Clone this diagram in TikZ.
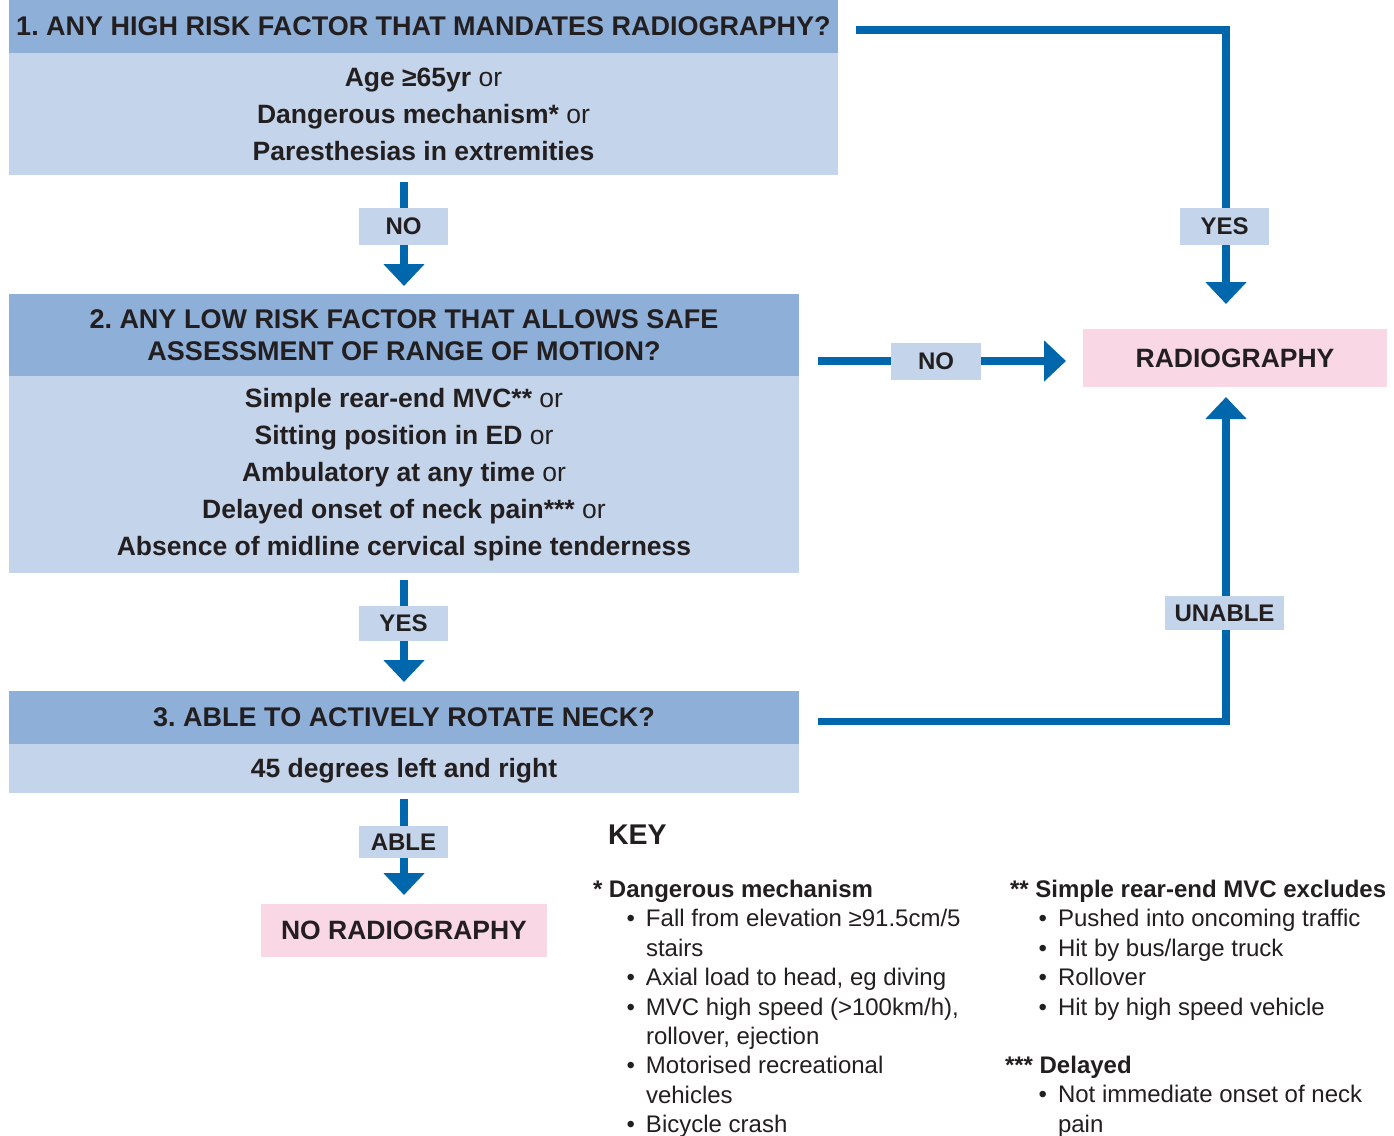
\documentclass[tikz,border=0pt]{standalone}
\usepackage{fontspec}
\setmainfont{Liberation Sans}
\usetikzlibrary{arrows.meta,calc}
\definecolor{hdrblue}{RGB}{141,175,216}
\definecolor{ltblue}{RGB}{196,212,234}
\definecolor{pinkbox}{RGB}{249,215,228}
\definecolor{arrblue}{RGB}{0,103,172}
\definecolor{txtc}{RGB}{35,31,32}
\frenchspacing
\begin{document}
\begin{tikzpicture}[x=1pt,y=-1pt,
  every node/.style={text=txtc, inner sep=0pt, outer sep=0pt},
  hdrbox/.style={fill=hdrblue, anchor=north west, align=center, font=\fontsize{27}{32}\selectfont\bfseries},
  bodybox/.style={fill=ltblue, anchor=north west, align=center, font=\fontsize{26.5}{37}\selectfont},
  endbox/.style={fill=pinkbox, anchor=north west, font=\fontsize{26.5}{32}\selectfont\bfseries},
  lbl/.style={fill=ltblue, font=\fontsize{24}{28}\selectfont\bfseries},
  conn/.style={draw=arrblue, line width=7.5pt, -{Triangle[width=40pt,length=22pt]}},
  keytxt/.style={anchor=north west, align=left, font=\fontsize{24}{29.4}\selectfont}
]
\useasboundingbox[fill=white] (0,0) rectangle (1394,1135);

% Box 1
\node[hdrbox, minimum width=829pt, minimum height=53pt] (h1) at (9,0) {1. ANY HIGH RISK FACTOR THAT MANDATES RADIOGRAPHY?};
\node[bodybox, minimum width=829pt, minimum height=122pt] (b1) at (9,53) {\textbf{Age ≥65yr} or\\ \textbf{Dangerous mechanism*} or\\ \textbf{Paresthesias in extremities}};

% Box 2
\node[hdrbox, minimum width=790pt, minimum height=82pt] (h2) at (9,294) {2. ANY LOW RISK FACTOR THAT ALLOWS SAFE\\ ASSESSMENT OF RANGE OF MOTION?};
\node[bodybox, minimum width=790pt, minimum height=197pt] (b2) at (9,376) {\textbf{Simple rear-end MVC**} or\\ \textbf{Sitting position in ED} or\\ \textbf{Ambulatory at any time} or\\ \textbf{Delayed onset of neck pain***} or\\ \textbf{Absence of midline cervical spine tenderness}};

% Box 3
\node[hdrbox, minimum width=790pt, minimum height=53pt] (h3) at (9,691) {3. ABLE TO ACTIVELY ROTATE NECK?};
\node[bodybox, minimum width=790pt, minimum height=49pt, text depth=0pt, text height=0pt] (b3) at (9,744) {};
\node[font=\fontsize{26.5}{32}\selectfont\bfseries] (b3t) at ([yshift=-2.5pt]b3.center) {45 degrees left and right};

% End boxes
\node[endbox, minimum width=304pt, minimum height=58pt] (rad) at (1083,329) {RADIOGRAPHY};
\node[endbox, minimum width=286pt, minimum height=53pt] (norad) at (261,904) {NO RADIOGRAPHY};

% Connectors
\draw[conn, shorten <=7pt, shorten >=8pt] (b1.south -| h2.north) -- (h2.north);
\draw[conn, shorten <=7pt, shorten >=9pt] (b2.south) -- (h3.north);
\draw[conn, shorten <=6pt, shorten >=9pt] (b3.south) -- (norad.north);
\draw[conn, shorten <=19pt, shorten >=17pt] ([yshift=-3pt]rad.west -| h2.east) -- ([yshift=-3pt]rad.west);
\draw[conn, shorten <=18pt, shorten >=25pt] ([yshift=-3.5pt]h1.east) -| ([xshift=-9pt]rad.north);
\draw[conn, shorten <=19pt, shorten >=10pt] ([yshift=-4pt]h3.east) -| ([xshift=-9pt]rad.south);

% Labels
\node[lbl, minimum width=89pt, minimum height=37pt] (lno1) at (403.5,226.5) {NO};
\node[lbl, minimum width=89pt, minimum height=37pt] (lyes1) at (1224.5,226.5) {YES};
\node[lbl, minimum width=90pt, minimum height=37pt] (lno2) at (936,361.5) {NO};
\node[lbl, minimum width=89pt, minimum height=35pt] (lyes2) at (403.5,623.5) {YES};
\node[lbl, minimum width=119pt, minimum height=34pt] (lunable) at (1224.5,613) {UNABLE};
\node[lbl, minimum width=89pt, minimum height=32pt] (lable) at (403.5,842) {ABLE};

% Key
\node[anchor=west, font=\fontsize{28.5}{32}\selectfont\bfseries] (key) at (608,835) {KEY};
\newcommand{\kb}{\makebox[53pt][r]{•\hspace{11pt}}}
\newcommand{\kc}{\hspace*{53pt}}
\node[keytxt] (keyl) at (593,880) {\textbf{* Dangerous mechanism}\\
\kb Fall from elevation ≥91.5cm/5\\
\kc stairs\\
\kb Axial load to head, eg diving\\
\kb MVC high speed (>100km/h),\\
\kc rollover, ejection\\
\kb Motorised recreational\\
\kc vehicles\\
\kb Bicycle crash};
\node[keytxt] (keyr) at (1010,880) {\textbf{** Simple rear-end MVC excludes}\\
\makebox[48pt][r]{•\hspace{11pt}}Pushed into oncoming traffic\\
\makebox[48pt][r]{•\hspace{11pt}}Hit by bus/large truck\\
\makebox[48pt][r]{•\hspace{11pt}}Rollover\\
\makebox[48pt][r]{•\hspace{11pt}}Hit by high speed vehicle};
\node[keytxt] (keyd) at (1005,1056) {\textbf{*** Delayed}\\
\makebox[53pt][r]{•\hspace{11pt}}Not immediate onset of neck\\
\hspace*{53pt}pain};
\end{tikzpicture}
\end{document}
